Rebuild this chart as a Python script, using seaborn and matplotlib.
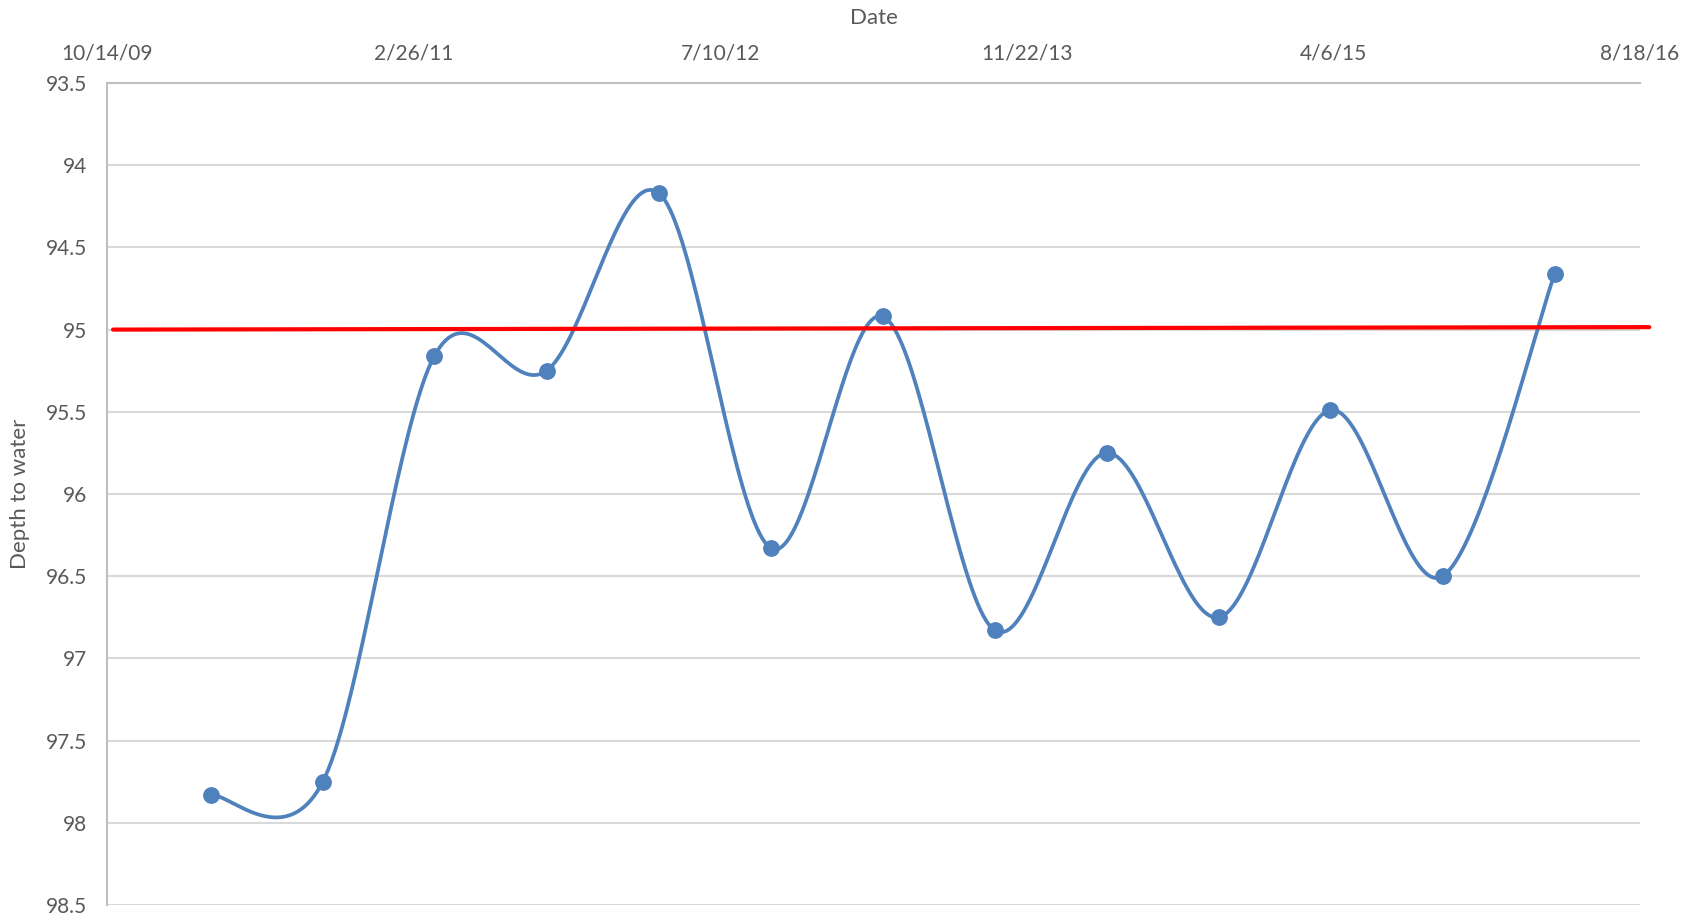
import numpy as np
import pandas as pd
import seaborn as sns
import matplotlib.pyplot as plt
import matplotlib.dates as mdates

# readings, every six months
dates = pd.to_datetime([
    "2010-04-01", "2010-10-01", "2011-04-01", "2011-10-01", "2012-04-01",
    "2012-10-01", "2013-04-01", "2013-10-01", "2014-04-01", "2014-10-01",
    "2015-04-01", "2015-10-01", "2016-04-01",
])
depth = [97.83, 97.75, 95.16, 95.25, 94.17, 96.33, 94.92, 96.83, 95.75, 96.75, 95.49, 96.50, 94.66]

# red reference line
ref_dates = pd.to_datetime(["2009-10-24", "2016-09-02"])
ref_depth = [95.00, 94.985]

# axis ticks
x_ticks = pd.to_datetime(["2009-10-14", "2011-02-26", "2012-07-10", "2013-11-22", "2015-04-06", "2016-08-18"])
x_labels = ["10/14/09", "2/26/11", "7/10/12", "11/22/13", "4/6/15", "8/18/16"]
y_ticks = [93.5, 94, 94.5, 95, 95.5, 96, 96.5, 97, 97.5, 98, 98.5]
y_labels = ["93.5", "94", "94.5", "95", "95.5", "96", "96.5", "97", "97.5", "98", "98.5"]


# Excel style smoothed line (Catmull-Rom through the points)
def smooth_curve(x, y, steps=40):
    x = np.asarray(x, dtype=float)
    y = np.asarray(y, dtype=float)
    px = np.concatenate([[x[0]], x, [x[-1]]])
    py = np.concatenate([[y[0]], y, [y[-1]]])
    out_x, out_y = [], []
    t = np.linspace(0, 1, steps)
    for i in range(1, len(px) - 2):
        p0x, p1x, p2x, p3x = px[i - 1], px[i], px[i + 1], px[i + 2]
        p0y, p1y, p2y, p3y = py[i - 1], py[i], py[i + 1], py[i + 2]
        c1x, c1y = p1x + (p2x - p0x) / 6, p1y + (p2y - p0y) / 6
        c2x, c2y = p2x - (p3x - p1x) / 6, p2y - (p3y - p1y) / 6
        bx = (1 - t) ** 3 * p1x + 3 * (1 - t) ** 2 * t * c1x + 3 * (1 - t) * t ** 2 * c2x + t ** 3 * p2x
        by = (1 - t) ** 3 * p1y + 3 * (1 - t) ** 2 * t * c1y + 3 * (1 - t) * t ** 2 * c2y + t ** 3 * p2y
        out_x.extend(bx)
        out_y.extend(by)
    return np.array(out_x), np.array(out_y)


sns.set_style("white")
plt.rcParams['font.family'] = ['Lato', 'DejaVu Sans']
text_color = "#595959"
grid_color = "#d9d9d9"
blue = "#4f81bd"

fig = plt.figure(figsize=(16.84, 9.23), dpi=100)
ax = fig.add_axes([0.0635, 0.0195, 0.9104, 0.8906])

xnum = mdates.date2num(dates)
sx, sy = smooth_curve(xnum, depth)
curve = pd.DataFrame({"Date": mdates.num2date(sx), "Depth": sy})
points = pd.DataFrame({"Date": dates, "Depth": depth})

sns.lineplot(data=curve, x="Date", y="Depth", sort=False, color=blue, linewidth=2.7, ax=ax, zorder=3)
sns.scatterplot(data=points, x="Date", y="Depth", color=blue, s=125, edgecolor=blue, ax=ax, zorder=4)
ax.plot(ref_dates, ref_depth, color="#ff0000", linewidth=3, zorder=5, clip_on=False)

ax.set_xlim(x_ticks[0], x_ticks[-1])
ax.set_ylim(98.5, 93.5)
ax.set_yticks(y_ticks)
ax.set_yticklabels(y_labels)
ax.set_xticks(x_ticks)
ax.set_xticklabels(x_labels)
ax.xaxis.tick_top()
ax.xaxis.set_label_position("top")
ax.tick_params(axis="both", length=0, labelsize=15, colors=text_color)
ax.tick_params(axis="x", pad=14)
ax.tick_params(axis="y", pad=14)

ax.grid(axis="y", color=grid_color, linewidth=1.5)
ax.grid(axis="x", visible=False)
for side in ["right", "bottom"]:
    ax.spines[side].set_visible(False)
ax.spines["top"].set_color("#bfbfbf")
ax.spines["top"].set_linewidth(1.5)
ax.spines["left"].set_color("#bfbfbf")
ax.spines["left"].set_linewidth(1.5)

ax.set_xlabel("Date", fontsize=16, color=text_color, labelpad=14)
ax.set_ylabel("Depth to water", fontsize=16, color=text_color, labelpad=12)

fig.savefig("out.png", dpi=100)
